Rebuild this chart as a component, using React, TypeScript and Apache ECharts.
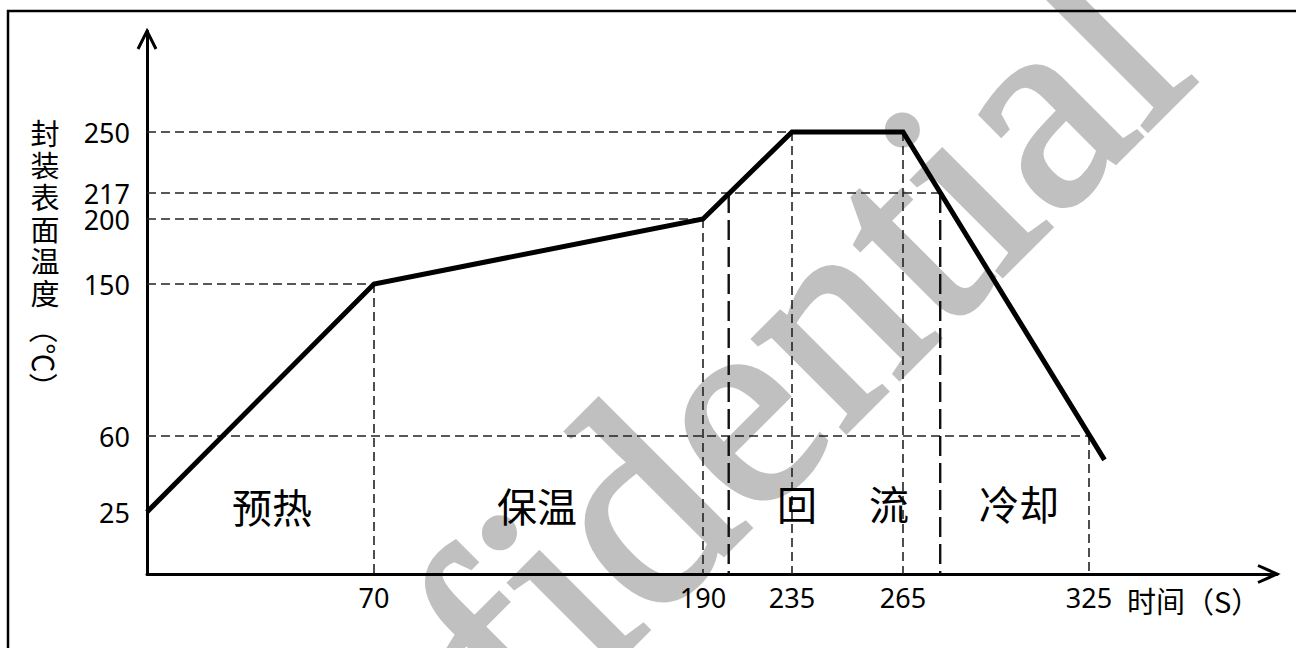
import React, { useEffect, useRef } from "react";
import * as echarts from "echarts";

// ---- data ----
const profileTime = [0, 70, 190, 235, 265, 330];
const profileTemp = [25, 150, 200, 250, 250, 49];

const xTickValues = [70, 190, 235, 265, 325];
const yTickValues = [25, 60, 150, 200, 217, 250];

// guide segments: [time1, temp1, time2, temp2]
const thinGuides = [
  [0, 250, 265, 250],
  [0, 217, 277, 217],
  [0, 200, 190, 200],
  [0, 150, 70, 150],
  [0, 60, 325, 60],
  [70, 150, 70, 0],
  [190, 200, 190, 0],
  [235, 250, 235, 0],
  [265, 250, 265, 0],
  [325, 60, 325, 0],
];
const liquidusTimes = [203, 277];
const liquidusTemp = 217;

const phaseNames = ["预热", "保温", "回", "流", "冷却"];
const yAxisName = "封装表面温度";
const yAxisUnit = "（℃）";
const xAxisName = "时间（S）";
const watermark = "Confidential";

// ---- layout: the drawing uses a schematic (piecewise) scale ----
const W = 1296;
const H = 648;
const GRID = { left: 147, top: 31, right: 19, bottom: 74 };
const X_MAX = W - GRID.left - GRID.right;
const Y_MAX = H - GRID.top - GRID.bottom;
const xKnotVal = [0, 70, 190, 235, 265, 325];
const xKnotPos = [0, 227, 556, 645, 756, 942];
const yKnotVal = [0, 25, 60, 150, 200, 217, 250];
const yKnotPos = [0, 62, 138, 290, 355, 381, 442];
const phasePos = [
  [272, 506],
  [537, 505],
  [797, 503],
  [889, 503],
  [1019, 503],
];

function warp(v: number, vals: number[], pos: number[]) {
  const n = vals.length;
  let i = 0;
  if (v >= vals[n - 1]) i = n - 2;
  else {
    while (i < n - 2 && v > vals[i + 1]) i++;
  }
  const t = (v - vals[i]) / (vals[i + 1] - vals[i]);
  return pos[i] + t * (pos[i + 1] - pos[i]);
}
const wx = (t: number) => warp(t, xKnotVal, xKnotPos);
const wy = (T: number) => warp(T, yKnotVal, yKnotPos);

export default function App() {
  const ref = useRef<HTMLDivElement>(null);
  useEffect(() => {
    document.body.style.margin = "0";
    const chart = echarts.init(ref.current!, null, { renderer: "svg" });

    const xTicksW = xTickValues.map(wx);
    const yTicksW = yTickValues.map(wy);
    const findLabel = (v: number, ws: number[], labels: number[]) => {
      const i = ws.findIndex((w) => Math.abs(w - v) < 1e-6);
      return i >= 0 ? String(labels[i]) : "";
    };

    const guideSeries: any[] = thinGuides.map((g) => ({
      type: "line",
      data: [
        [wx(g[0]), wy(g[1])],
        [wx(g[2]), wy(g[3])],
      ],
      symbol: "none",
      silent: true,
      z: 1,
      lineStyle: { color: "#222", width: 1.6, type: [9, 5] },
    }));
    liquidusTimes.forEach((t) => {
      guideSeries.push({
        type: "line",
        data: [
          [wx(t), wy(liquidusTemp)],
          [wx(t), wy(0)],
        ],
        symbol: "none",
        silent: true,
        z: 1,
        lineStyle: { color: "#111", width: 2.4, type: [20, 7] },
      });
    });

    const axisTipX = W - GRID.right;
    const axisY = H - GRID.bottom;
    const axisX = GRID.left;
    const axisTipY = GRID.top;

    const cjk = '"Noto Sans CJK SC", "Noto Sans", sans-serif';

    const option: any = {
      animation: false,
      backgroundColor: "#fff",
      grid: { ...GRID, containLabel: false },
      xAxis: {
        type: "value",
        min: 0,
        max: X_MAX,
        splitLine: { show: false },
        axisTick: { show: false },
        axisLine: { show: true, lineStyle: { color: "#000", width: 3 } },
        axisLabel: {
          customValues: xTicksW,
          formatter: (v: number) => findLabel(v, xTicksW, xTickValues),
          color: "#000",
          fontSize: 27,
          fontFamily: '"Noto Sans", sans-serif',
          margin: 10,
        },
      },
      yAxis: {
        type: "value",
        min: 0,
        max: Y_MAX,
        splitLine: { show: false },
        axisTick: { show: false },
        axisLine: { show: true, lineStyle: { color: "#000", width: 3 } },
        axisLabel: {
          customValues: yTicksW,
          formatter: (v: number) => findLabel(v, yTicksW, yTickValues),
          color: "#000",
          fontSize: 27,
          lineHeight: 25,
          fontFamily: '"Noto Sans", sans-serif',
          margin: 17,
        },
      },
      series: [
        ...guideSeries,
        {
          type: "line",
          data: profileTime.map((t, i) => [wx(t), wy(profileTemp[i])]),
          symbol: "none",
          silent: true,
          z: 5,
          lineStyle: { color: "#000", width: 5, join: "miter" },
        },
      ],
      graphic: [
        {
          type: "text",
          z: -10,
          silent: true,
          x: 1132,
          y: 10,
          rotation: Math.PI / 4,
          style: {
            text: watermark,
            font: '285px "Liberation Serif", serif',
            fill: "#c0c0c0",
            stroke: "#c0c0c0",
            lineWidth: 5,
            align: "right",
            verticalAlign: "middle",
          },
        },
        {
          type: "rect",
          z: 20,
          silent: true,
          shape: { x: 8, y: 11, width: 1400, height: 800 },
          style: { fill: "none", stroke: "#000", lineWidth: 2.5 },
        },
        {
          type: "polyline",
          z: 20,
          silent: true,
          shape: {
            points: [
              [axisTipX - 19, axisY - 8.5],
              [axisTipX, axisY],
              [axisTipX - 19, axisY + 8.5],
            ],
          },
          style: { stroke: "#000", lineWidth: 3, fill: "none" },
        },
        {
          type: "polyline",
          z: 20,
          silent: true,
          shape: {
            points: [
              [axisX - 9, axisTipY + 18],
              [axisX, axisTipY],
              [axisX + 9, axisTipY + 18],
            ],
          },
          style: { stroke: "#000", lineWidth: 3, fill: "none" },
        },
        ...yAxisName.split("").map((ch, i) => ({
          type: "text",
          z: 20,
          silent: true,
          x: 45,
          y: 132 + i * 32,
          style: {
            text: ch,
            font: `29px ${cjk}`,
            lineHeight: 30,
            fill: "#000",
            align: "center",
            verticalAlign: "middle",
          },
        })),
        {
          type: "text",
          z: 20,
          silent: true,
          x: 45,
          y: 358,
          rotation: -Math.PI / 2,
          style: {
            text: yAxisUnit,
            font: `29px ${cjk}`,
            fill: "#000",
            align: "center",
            verticalAlign: "middle",
          },
        },
        {
          type: "text",
          z: 20,
          silent: true,
          x: 1127,
          y: 600,
          style: {
            text: xAxisName,
            font: `29px ${cjk}`,
            fill: "#000",
            align: "left",
            verticalAlign: "middle",
          },
        },
        ...phaseNames.map((name, i) => ({
          type: "text",
          z: 20,
          silent: true,
          x: phasePos[i][0],
          y: phasePos[i][1],
          style: {
            text: name,
            font: `40px ${cjk}`,
            fill: "#000",
            align: "center",
            verticalAlign: "middle",
          },
        })),
      ],
    };
    chart.setOption(option);
    return () => chart.dispose();
  }, []);
  return <div ref={ref} style={{ width: W, height: H }} />;
}
